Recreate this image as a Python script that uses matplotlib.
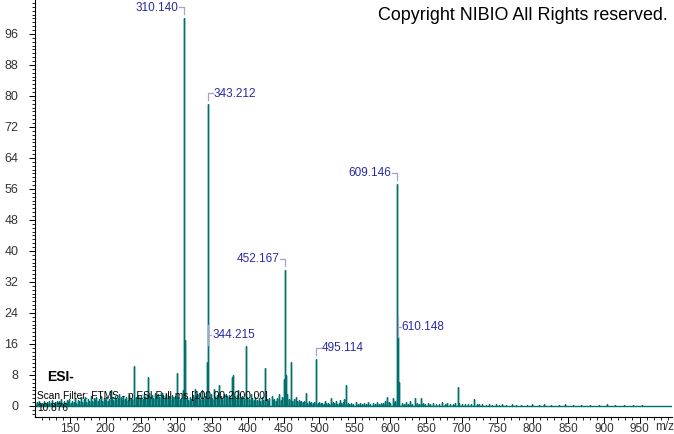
import matplotlib
matplotlib.use("Agg")
import matplotlib.pyplot as plt
from matplotlib.ticker import MultipleLocator

# ---------------------------------------------------------------------------
# Data (relative abundance, %)
# ---------------------------------------------------------------------------
# labelled peaks
LABEL_MZ = [310.140, 343.212, 344.215, 452.167, 495.114, 609.146, 610.148]
LABEL_INT = [100.0, 77.9, 15.7, 35.1, 12.2, 57.3, 17.8]
LABEL_SIDE = ["left", "right", "side", "left", "right", "left", "side"]

# other visible peaks
PEAK_MZ = [207.7, 219.0, 240.3, 259.1, 300.3, 309.1, 311.14, 312.1, 325.1,
           329.0, 342.2, 359.7, 369.0, 377.2, 378.5, 386.0, 397.2, 404.0,
           424.5, 433.0, 444.0, 451.2, 453.17, 455.0, 460.3, 467.0, 481.4,
           496.1, 517.0, 537.5, 595.1, 603.0, 611.7, 634.0, 643.0, 694.3,
           717.0]
PEAK_INT = [4.1, 3.0, 10.3, 7.4, 8.6, 4.0, 17.0, 3.5, 4.5,
            3.0, 11.4, 5.4, 3.2, 7.6, 8.0, 4.0, 15.5, 3.0,
            9.7, 2.5, 3.0, 7.0, 8.0, 3.0, 11.4, 2.2, 3.3,
            2.0, 2.0, 5.4, 2.4, 2.0, 6.3, 2.0, 2.0, 4.8,
            1.9]

# low-level chemical noise ("grass") along the baseline
GRASS_MZ = [
    101.1, 103.0, 105.1, 107.0, 109.1, 111.0, 113.1, 115.0, 117.1, 119.0,
    121.1, 123.0, 125.1, 127.0, 129.1, 131.0, 133.1, 135.0, 137.1, 139.0,
    141.1, 143.0, 145.1, 147.0, 149.1, 151.0, 153.1, 155.0, 157.1, 159.0,
    161.1, 163.0, 165.1, 167.0, 169.1, 171.0, 173.1, 175.0, 177.1, 179.0,
    181.1, 183.0, 185.1, 187.0, 189.1, 191.0, 193.1, 195.0, 197.1, 199.0,
    201.1, 203.0, 205.1, 209.1, 211.0, 213.1, 215.0, 217.1, 221.0, 223.1,
    225.0, 227.1, 229.0, 231.1, 233.0, 235.1, 237.0, 242.1, 244.0, 246.1,
    248.0, 250.1, 252.0, 254.1, 256.0, 258.0, 261.1, 263.0, 265.1, 267.0,
    269.1, 271.0, 273.1, 275.0, 277.1, 279.0, 281.1, 283.0, 285.1, 287.0,
    289.1, 291.0, 293.1, 295.0, 297.1, 299.0, 302.1, 304.0, 306.1, 308.0,
    314.1, 316.0, 318.1, 320.0, 322.1, 324.0, 327.1, 331.1, 333.0, 335.1,
    337.0, 339.1, 341.0, 346.1, 348.0, 350.1, 352.0, 354.1, 356.0, 358.1,
    362.0, 364.1, 366.0, 371.1, 373.0, 375.1, 380.0, 382.1, 384.0, 388.1,
    390.0, 392.1, 394.0, 399.1, 401.0, 406.1, 408.0, 410.1, 412.0, 415.1,
    417.0, 419.1, 421.0, 426.1, 428.0, 430.1, 435.1, 437.0, 439.1, 441.0,
    446.1, 448.0, 450.1, 457.1, 462.1, 464.0, 469.1, 471.0, 473.1, 475.0,
    477.1, 479.0, 483.1, 485.0, 487.1, 489.0, 491.1, 493.0, 498.1, 500.0,
    502.1, 504.0, 506.1, 508.0, 510.1, 512.0, 514.1, 519.1, 521.0, 523.1,
    525.0, 527.1, 529.0, 531.1, 533.0, 535.1, 540.1, 542.0, 545.1, 548.0,
    551.1, 554.0, 557.1, 560.0, 563.1, 566.0, 569.1, 572.0, 575.1, 578.0,
    581.1, 584.0, 587.1, 590.0, 592.1, 598.1, 600.0, 605.1, 607.0, 616.1,
    619.0, 622.1, 625.0, 628.1, 631.0, 637.1, 640.0, 646.1, 649.0, 652.1,
    656.0, 660.1, 664.0, 668.1, 672.0, 676.1, 680.0, 684.1, 688.0, 691.1,
    697.0, 701.1, 705.0, 709.1, 713.0, 721.1, 725.0, 729.1, 734.0, 738.1,
    743.0, 748.1, 752.0, 757.1, 763.0, 770.1, 777.0, 784.1, 792.0, 799.1,
    808.0, 816.1, 826.0, 836.1, 845.0, 856.1, 868.0, 880.1, 893.0, 904.1,
    916.0, 928.1, 941.0, 953.1,
]
GRASS_INT = [
    0.7, 1.0, 0.5, 1.2, 0.6, 0.9, 1.4, 0.7, 1.1, 0.5,
    1.3, 0.8, 1.6, 0.6, 1.0, 1.4, 0.7, 1.2, 1.8, 0.9,
    1.3, 0.7, 1.5, 1.0, 1.9, 0.8, 1.4, 1.1, 2.0, 0.9,
    1.6, 1.2, 2.2, 1.0, 1.7, 2.4, 1.1, 1.8, 1.4, 2.6,
    1.2, 2.0, 1.5, 2.3, 1.3, 1.8, 2.7, 1.4, 2.1, 1.6,
    2.4, 1.3, 1.9, 2.2, 1.5, 2.6, 1.7, 2.0, 2.3, 1.6,
    2.7, 1.8, 2.2, 1.5, 2.9, 2.0, 1.7, 2.4, 1.8, 2.8,
    2.1, 2.5, 1.9, 3.1, 2.2, 2.6, 3.3, 2.3, 2.8, 2.0,
    3.4, 2.5, 3.0, 2.2, 3.6, 2.4, 2.8, 2.1, 3.2, 2.3,
    2.7, 1.9, 2.9, 2.2, 2.5, 1.8, 2.3, 1.7, 2.1, 1.6,
    2.0, 1.5, 2.4, 1.7, 2.8, 1.9, 2.6, 3.4, 1.8, 4.0,
    2.1, 2.7, 2.0, 2.2, 3.0, 1.8, 4.4, 2.3, 2.8, 2.0,
    2.6, 1.9, 3.2, 2.4, 2.8, 2.1, 2.7, 1.9, 2.9, 2.2,
    1.8, 2.5, 2.0, 2.3, 1.7, 2.1, 1.6, 2.4, 1.5, 2.0,
    1.4, 2.2, 1.6, 1.8, 1.4, 2.1, 1.6, 1.9, 1.3, 2.0,
    1.5, 2.2, 1.7, 1.8, 1.4, 1.9, 1.3, 1.6, 1.1, 1.4,
    1.0, 1.3, 0.9, 1.2, 0.8, 1.1, 0.7, 1.0, 0.8, 1.1,
    0.7, 0.9, 0.6, 1.3, 0.7, 0.9, 0.6, 1.0, 0.7, 1.2,
    0.6, 0.8, 1.6, 0.7, 1.1, 1.8, 0.8, 0.6, 0.9, 0.5,
    1.0, 0.6, 0.8, 0.5, 0.9, 0.6, 1.0, 0.5, 0.8, 0.6,
    1.1, 0.6, 0.9, 0.7, 1.4, 1.0, 0.7, 0.8, 1.2, 0.8,
    0.6, 1.0, 0.5, 1.2, 0.6, 0.8, 0.5, 0.9, 0.6, 0.7,
    0.5, 0.8, 0.4, 0.6, 1.0, 0.5, 0.7, 0.4, 0.6, 0.8,
    0.7, 0.4, 0.6, 0.4, 0.5, 0.6, 0.4, 0.5, 0.3, 0.4,
    0.3, 0.5, 0.3, 0.4, 0.3, 0.4, 0.3, 0.3, 0.3, 0.4,
    0.3, 0.4, 0.3, 0.3, 0.4, 0.3, 0.3, 0.3, 0.3, 0.4,
    0.3, 0.3, 0.3, 0.3,
]

Y_TICKS = list(range(0, 97, 8))
X_TICKS = list(range(150, 951, 50))

SPEC_COLOR = "#00706f"
LABEL_COLOR = "#2a2aa6"
BRACKET_COLOR = "#a4a4c4"
TICK_COLOR = "#333333"
FONT = "Liberation Sans"

# ---------------------------------------------------------------------------
# Drawing
# ---------------------------------------------------------------------------
plt.rcParams["font.family"] = [FONT, "DejaVu Sans"]

fig = plt.figure(figsize=(6.74, 4.34), dpi=100)
ax = fig.add_axes([35 / 674, 17 / 434, 637 / 674, 417 / 434])

# stick spectrum drawn as a single profile trace (baseline + sticks)
peaks = sorted(zip(LABEL_MZ + PEAK_MZ + GRASS_MZ,
                   LABEL_INT + PEAK_INT + GRASS_INT))
xs, ys = [100.0], [0.0]
for mz, inten in peaks:
    xs += [mz, mz, mz]
    ys += [0.0, inten, 0.0]
xs.append(1000.0)
ys.append(0.0)
ax.plot(xs, ys, color=SPEC_COLOR, lw=1.0, solid_joinstyle="miter", zorder=2)

ax.set_xlim(100.8, 995.5)
ax.set_ylim(-2.84, 104.77)

ax.spines[["top", "right"]].set_visible(False)
ax.spines["left"].set_linewidth(0.8)
ax.spines["bottom"].set_linewidth(0.8)

ax.set_yticks(Y_TICKS)
ax.yaxis.set_minor_locator(MultipleLocator(1))
ax.set_xticks(X_TICKS)
ax.xaxis.set_minor_locator(MultipleLocator(10))
ax.tick_params(axis="both", which="major", length=4, width=0.7,
               labelsize=8.5, labelcolor=TICK_COLOR, color="black")
ax.tick_params(axis="both", which="minor", length=2, width=0.6,
               color="black")
ax.tick_params(axis="x", which="major", pad=0)
ax.tick_params(axis="y", which="major", pad=8, labelsize=9)
ax.text(0.989, -0.024, "m/z", transform=ax.transAxes, ha="center",
        va="center", fontsize=8.5, color=TICK_COLOR)


def shift(x, y, dx_px, dy_px):
    """Move a data point by a number of pixels."""
    px, py = ax.transData.transform((x, y))
    return ax.transData.inverted().transform((px + dx_px, py + dy_px))


# peak labels with the small bracket leaders
for mz, inten, side in zip(LABEL_MZ, LABEL_INT, LABEL_SIDE):
    if side == "side":
        x0, y_lo = shift(mz, inten, 0, 0)
        _, y_hi = shift(mz, inten, 0, 20)
        _, y_mid = shift(mz, inten, 0, 10)
        x1, _ = shift(mz, inten, 3, 0)
        xt, _ = shift(mz, inten, 4, 0)
        ax.plot([mz, mz], [y_lo, y_hi], color=BRACKET_COLOR, lw=0.9, zorder=3)
        ax.plot([mz, x1], [y_mid, y_mid], color=BRACKET_COLOR, lw=0.9,
                zorder=3)
        ax.text(xt, y_mid, f"{mz:.3f}", ha="left", va="center", fontsize=8.5,
                color=LABEL_COLOR, zorder=4)
        continue
    sign = -1 if side == "left" else 1
    _, y_lo = shift(mz, inten, 0, 4)
    _, y_top = shift(mz, inten, 0, 11)
    _, y_txt = shift(mz, inten, 0, 12)
    x1, _ = shift(mz, inten, sign * 5, 0)
    xt, _ = shift(mz, inten, sign * 6, 0)
    ax.plot([mz, mz, x1], [y_lo, y_top, y_top], color=BRACKET_COLOR, lw=0.9,
            zorder=3)
    ax.text(xt, y_txt, f"{mz:.3f}", ha="right" if side == "left" else "left",
            va="center_baseline", fontsize=8.5, color=LABEL_COLOR, zorder=4)

# header / scan info
fig.text(668 / 674, 1 - 15 / 434, "Copyright NIBIO All Rights reserved.",
         ha="right", va="center", fontsize=12.9, color="black")
fig.text(47 / 674, 1 - 377 / 434, "ESI-", ha="left", va="center",
         fontsize=10, fontweight="bold", color="black")
fig.text(37 / 674, 1 - 396 / 434,
         "Scan Filter: FTMS - p ESI Full ms [100.00-2000.00]",
         ha="left", va="center", fontsize=7.3, color="black")
fig.text(37 / 674, 1 - 408 / 434, "10.876", ha="left", va="center",
         fontsize=7.3, color="black")

fig.savefig("out.png", dpi=100)
